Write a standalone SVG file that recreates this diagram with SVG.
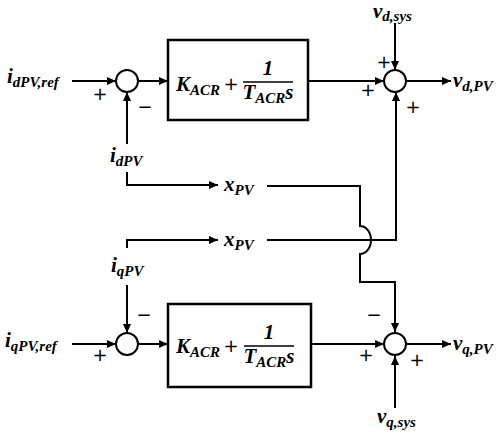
<svg xmlns="http://www.w3.org/2000/svg" width="500" height="435" viewBox="0 0 500 435">
<defs>
<marker id="ah" markerUnits="userSpaceOnUse" markerWidth="10" markerHeight="8" refX="9" refY="4" orient="auto">
<path d="M0,0 L9,4 L0,8 Z" fill="#000"/>
</marker>
<style>
.ln{fill:none;stroke:#000;stroke-width:2}
.ar{marker-end:url(#ah)}
.sum{fill:#fff;stroke:#000;stroke-width:2}
.blk{fill:#fff;stroke:#000;stroke-width:2.5}
.m{font-family:"Liberation Serif",serif;font-weight:bold;font-style:italic;font-size:21px;fill:#000}
.s{font-size:15px}
.op{font-family:"DejaVu Sans",sans-serif;font-size:18px;fill:#000;text-anchor:middle}
.bar{stroke:#000;stroke-width:1.5}
</style>
</defs>
<rect width="500" height="435" fill="#fff"/>
<g id="connectors">
<line class="ln ar" x1="72" y1="81" x2="116" y2="81"/>
<line class="ln ar" x1="127" y1="144" x2="127" y2="92"/>
<line class="ln ar" x1="138" y1="81" x2="168" y2="81"/>
<polyline class="ln ar" points="127,172 127,185 218,185"/>
<line class="ln ar" x1="308" y1="81" x2="384" y2="81"/>
<line class="ln ar" x1="395" y1="23" x2="395" y2="70"/>
<line class="ln ar" x1="406" y1="81" x2="451" y2="81"/>
<polyline class="ln ar" points="267,240 396,240 396,92"/>
<path class="ln ar" d="M267,186 H360 V226 A11,14 0 0 1 360,254 V282 H395 V332"/>
<polyline class="ln ar" points="127,248 127,240 218,240"/>
<line class="ln ar" x1="127" y1="285" x2="127" y2="333"/>
<line class="ln ar" x1="72" y1="344" x2="116" y2="344"/>
<line class="ln ar" x1="138" y1="344" x2="168" y2="344"/>
<line class="ln ar" x1="311" y1="344" x2="384" y2="344"/>
<line class="ln ar" x1="406" y1="344" x2="451" y2="344"/>
<line class="ln ar" x1="395" y1="408" x2="395" y2="356"/>
</g>
<g id="sum1">
<circle class="sum" cx="127" cy="81" r="11"/>
<text class="op" x="100" y="100">+</text>
<text class="op" x="145" y="113">−</text>
</g>
<g id="sum2">
<circle class="sum" cx="395" cy="81" r="11"/>
<text class="op" x="384" y="68">+</text>
<text class="op" x="368" y="96">+</text>
<text class="op" x="413" y="113">+</text>
</g>
<g id="sum3">
<circle class="sum" cx="127" cy="344" r="11"/>
<text class="op" x="100" y="361">+</text>
<text class="op" x="144" y="321">−</text>
</g>
<g id="sum4">
<circle class="sum" cx="395" cy="344" r="11"/>
<text class="op" x="374" y="321">−</text>
<text class="op" x="366" y="361">+</text>
<text class="op" x="417" y="366">+</text>
</g>
<g id="blockD">
<rect class="blk" x="168" y="40" width="140" height="80"/>
<text class="m" x="176" y="91">K<tspan class="s" dy="4">ACR</tspan></text>
<text class="op" x="231" y="90" font-size="20">+</text>
<text class="m" x="268" y="75" text-anchor="middle">1</text>
<line class="bar" x1="243" y1="82" x2="293" y2="82"/>
<text class="m" x="268" y="99" text-anchor="middle">T<tspan class="s" dy="4">ACR</tspan><tspan dy="-4">s</tspan></text>
</g>
<g id="blockQ">
<rect class="blk" x="168" y="304" width="143" height="83"/>
<text class="m" x="176" y="353">K<tspan class="s" dy="4">ACR</tspan></text>
<text class="op" x="231" y="352" font-size="20">+</text>
<text class="m" x="269" y="339" text-anchor="middle">1</text>
<line class="bar" x1="244" y1="346" x2="294" y2="346"/>
<text class="m" x="269" y="363" text-anchor="middle">T<tspan class="s" dy="4">ACR</tspan><tspan dy="-4">s</tspan></text>
</g>
<g id="labels">
<text class="m" x="7" y="83">i<tspan class="s" dy="4">dPV,ref</tspan></text>
<text class="m" x="110" y="162">i<tspan class="s" dy="4">dPV</tspan></text>
<text class="m" x="224" y="191">x<tspan class="s" dy="4">PV</tspan></text>
<text class="m" x="224" y="246">x<tspan class="s" dy="4">PV</tspan></text>
<text class="m" x="111" y="272">i<tspan class="s" dy="4">qPV</tspan></text>
<text class="m" x="5" y="347">i<tspan class="s" dy="4">qPV,ref</tspan></text>
<text class="m" x="373" y="18" font-size="20">v<tspan class="s" dy="3">d,sys</tspan></text>
<text class="m" x="453" y="87">v<tspan class="s" dy="4">d,PV</tspan></text>
<text class="m" x="453" y="350">v<tspan class="s" dy="4">q,PV</tspan></text>
<text class="m" x="377" y="423">v<tspan class="s" dy="4">q,sys</tspan></text>
</g>
</svg>
